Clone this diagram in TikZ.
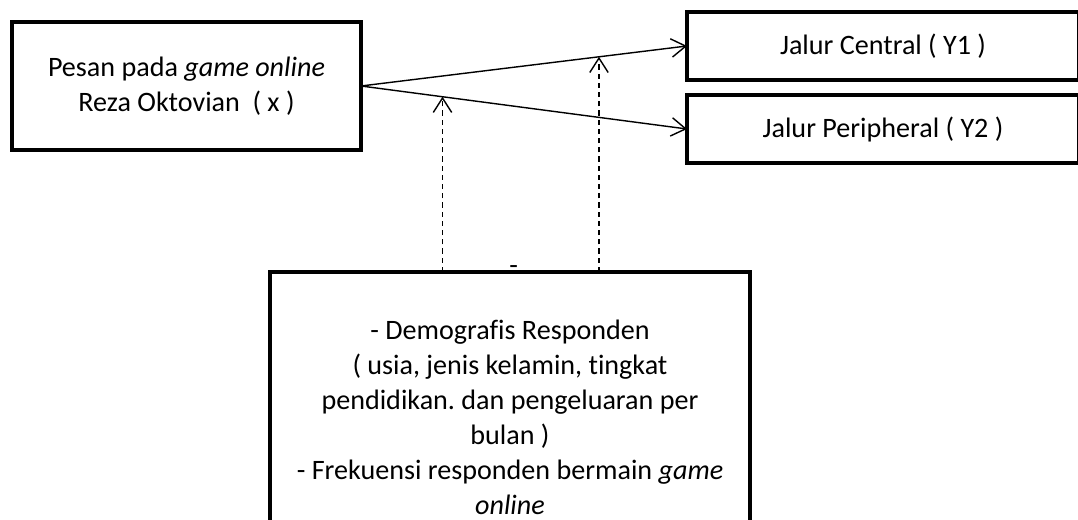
\documentclass[tikz,border=0pt]{standalone}
\usepackage{fontspec}
\setmainfont{Carlito}[Ligatures=NoCommon]
\usetikzlibrary{positioning, arrows.meta, calc}
\frenchspacing

\begin{document}
\begin{tikzpicture}[font=\fontsize{20pt}{24.9pt}\selectfont,
  box/.style={draw, line width=2.8pt, align=center, inner sep=0pt,
    outer sep=0pt},
  flow/.style={line width=1pt, -{Straight Barb[length=3.6mm, width=4.6mm]}},
  hint/.style={flow, dash pattern=on 1.3mm off 1mm}]
  \useasboundingbox (0,0) rectangle (26.95,-13);
  % variable boxes
  \node[box, minimum width=8.725cm, minimum height=3.2cm] (pesan)
    at (4.6625,-2.15) {Pesan pada \textit{game online}\\Reza Oktovian\ \ ( x )};
  \node[box, minimum width=9.8cm, minimum height=1.7cm] (central)
    at (22.075,-1.15) {Jalur Central ( Y1 )};
  \node[box, minimum width=9.8cm, minimum height=1.7cm] (peri)
    at (22.075,-3.225) {Jalur Peripheral ( Y2 )};
  \node[box, minimum width=12cm, minimum height=7.25cm] (demo)
    at (12.75,-10.425) {- Demografis Responden\\( usia, jenis kelamin, tingkat\\
    pendidikan. dan pengeluaran per\\bulan )\\
    - Frekuensi responden bermain \textit{game}\\\textit{online}};
  \node (stray) at (12.84,-6.75) {-};
  % arrows
  \draw[flow] (pesan.east) -- (central.west);
  \draw[flow] (pesan.east) -- (peri.west);
  \coordinate (m1) at ($(pesan.east)!0.25!(peri.west)$);
  \coordinate (m2) at ($(pesan.east)!0.73!(central.west)$);
  \draw[hint] (demo.north -| m1) -- (m1);
  \draw[hint] (demo.north -| m2) -- (m2);
\end{tikzpicture}
\end{document}
